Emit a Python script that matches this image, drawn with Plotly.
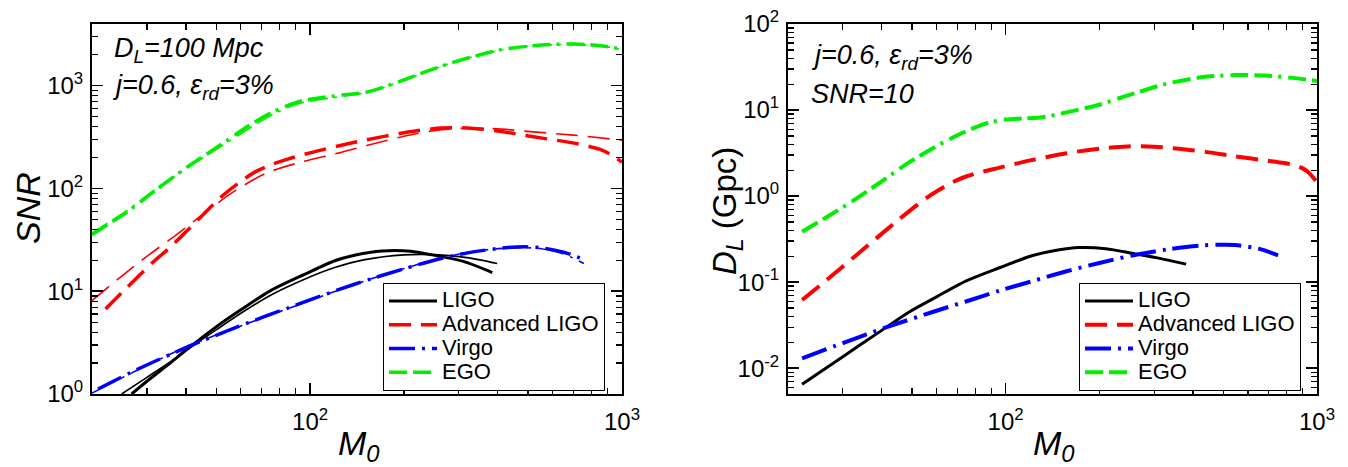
import numpy as np
import plotly.graph_objects as go

# ---------------- data: left panel (SNR at D_L = 100 Mpc) ----------------
ligo_thick_m = [26.8, 30, 35, 40.8, 50, 60, 75, 96, 120, 140, 170, 210, 257, 310, 384]
ligo_thick_snr = [1.0, 1.33, 1.92, 2.8, 4.5, 6.6, 10.2, 14.6, 19.8, 22.5, 24.6, 24.5, 22.0, 19.5, 15.2]
ligo_thin_m = [24.9, 30, 35, 40.8, 50, 60, 75, 96, 120, 150, 200, 250, 300, 350, 398]
ligo_thin_snr = [1.0, 1.45, 1.98, 2.75, 4.2, 6.1, 9.2, 13.1, 17.0, 20.3, 22.6, 22.7, 21.7, 20.2, 18.6]

virgo_thick_m = [20.9, 28.1, 40.8, 59, 85.3, 124, 157, 200, 257, 330, 430, 500, 545, 650, 750]
virgo_thick_snr = [1.12, 1.75, 2.9, 4.55, 6.9, 10.4, 13.2, 16.5, 20.5, 24.0, 26.6, 27.0, 26.6, 24.0, 20.5]
virgo_thin_m = [20, 28.1, 40.8, 59, 85.3, 124, 157, 200, 257, 330, 430, 500, 545, 650, 755]
virgo_thin_snr = [1.02, 1.72, 2.95, 4.5, 6.8, 10.3, 13.2, 16.6, 20.6, 24.2, 26.4, 26.5, 26.0, 23.0, 18.6]

adv_thick_m = [22.1, 26, 31.8, 35, 40.8, 52.2, 60, 66.7, 75, 85.3, 100, 124, 152, 200, 248, 318, 400, 520, 720, 850, 930, 1000]
adv_thick_snr = [6.7, 11.0, 19.9, 25.5, 40, 84, 117, 145, 170, 194, 222, 260, 298, 348, 382, 388, 362, 318, 272, 240, 210, 180]
adv_thin_m = [20, 24, 28.8, 31.8, 38, 45, 56, 72, 92, 124, 152, 200, 250, 318, 400, 520, 700, 1000]
adv_thin_snr = [8.1, 12.8, 19.9, 24.9, 37, 55, 90, 140, 178, 222, 262, 322, 365, 386, 380, 355, 330, 295]

ego_m = [20, 26.1, 31.8, 40, 52.2, 63, 75.6, 92, 124, 152, 194, 240, 281, 340, 407, 500, 589, 700, 777, 880, 1000]
ego_thick_snr = [35.5, 60, 95, 158, 272, 400, 550, 700, 806, 865, 1100, 1400, 1650, 1950, 2230, 2420, 2510, 2540, 2510, 2420, 2270]
ego_thin_snr = [37, 62, 97, 156, 260, 375, 520, 670, 780, 860, 1090, 1390, 1650, 1950, 2220, 2420, 2500, 2520, 2480, 2400, 2250]

# ---------------- data: right panel (D_L in Gpc at SNR = 10) ----------------
r_ligo_m = [22.2, 30, 40, 49, 60, 75, 96, 120, 140, 170, 210, 257, 310, 380]
r_ligo_d = [0.0065, 0.0136, 0.0275, 0.045, 0.0675, 0.104, 0.148, 0.2, 0.228, 0.252, 0.245, 0.215, 0.19, 0.162]

r_virgo_m = [22.2, 30, 41.5, 60, 75, 96, 120, 157, 200, 257, 330, 430, 500, 545, 650, 750]
r_virgo_d = [0.013, 0.0196, 0.030, 0.0465, 0.060, 0.080, 0.101, 0.134, 0.167, 0.205, 0.24, 0.268, 0.272, 0.27, 0.245, 0.205]

r_adv_m = [22.2, 26.8, 33, 38.3, 45, 55.6, 62, 67.6, 75, 85, 93.5, 120, 157, 200, 246, 300, 360, 450, 545, 680, 785, 850, 900, 940, 971, 1000]
r_adv_d = [0.062, 0.108, 0.203, 0.32, 0.52, 0.95, 1.22, 1.45, 1.7, 1.93, 2.1, 2.6, 3.15, 3.55, 3.78, 3.75, 3.55, 3.22, 2.9, 2.6, 2.42, 2.28, 2.1, 1.88, 1.65, 1.45]

r_ego_m = [22.2, 26.5, 32, 39.3, 48, 58.4, 70, 80, 89, 100, 115, 129, 145, 157, 201, 257, 330, 424, 545, 700, 850, 1000]
r_ego_d = [0.385, 0.565, 0.86, 1.42, 2.35, 3.6, 5.1, 6.3, 7.2, 7.75, 8.0, 8.2, 8.8, 9.4, 11.6, 15.5, 20.3, 24, 25.5, 25, 23.5, 21.8]

names = ["LIGO", "Advanced LIGO", "Virgo", "EGO"]
colors = ["#000000", "#ff0000", "#0000ff", "#00ee00"]
dashes = ["solid", "22px,10px", "26px,7px,3px,7px", "18px,6px,18px,6px,3px,7px"]

FONT = "Liberation Sans, Arial, sans-serif"
W, H = 1348, 467

fig = go.Figure()

def add(x, y, i, width, xa, ya, show, legend):
    fig.add_trace(go.Scatter(
        x=x, y=y, mode="lines",
        name="<span style='font-size:22px'>%s</span>" % names[i],
        line=dict(color=colors[i], width=width, dash=dashes[i], shape="spline", smoothing=0.8),
        xaxis=xa, yaxis=ya, showlegend=show, legend=legend, hoverinfo="skip"))

# left panel
add(ligo_thick_m, ligo_thick_snr, 0, 3, "x", "y", True, "legend")
add(ligo_thin_m, ligo_thin_snr, 0, 1.6, "x", "y", False, "legend")
add(adv_thick_m, adv_thick_snr, 1, 3.5, "x", "y", True, "legend")
add(adv_thin_m, adv_thin_snr, 1, 1.6, "x", "y", False, "legend")
add(virgo_thick_m, virgo_thick_snr, 2, 3.5, "x", "y", True, "legend")
add(virgo_thin_m, virgo_thin_snr, 2, 1.6, "x", "y", False, "legend")
add(ego_m, ego_thick_snr, 3, 3.5, "x", "y", True, "legend")
add(ego_m, ego_thin_snr, 3, 1.6, "x", "y", False, "legend")

# right panel
add(r_ligo_m, r_ligo_d, 0, 3, "x2", "y2", True, "legend2")
add(r_adv_m, r_adv_d, 1, 4, "x2", "y2", True, "legend2")
add(r_virgo_m, r_virgo_d, 2, 4, "x2", "y2", True, "legend2")
add(r_ego_m, r_ego_d, 3, 4, "x2", "y2", True, "legend2")

def sup(e):
    return "10<sup>%d</sup>" % e

def minor_vals(lo, hi):
    vals = []
    for d in range(lo, hi):
        for k in range(2, 10):
            vals.append(k * 10.0 ** d)
    return vals

x_tickvals = [100, 1000]
x_ticktext = [sup(2), sup(3)]
y1_tickvals = [1, 10, 100, 1000]
y1_ticktext = [sup(0), sup(1), sup(2), sup(3)]
y2_tickvals = [0.01, 0.1, 1, 10, 100]
y2_ticktext = [sup(-2), sup(-1), sup(0), sup(1), sup(2)]

def axis_common(tv, tt, minor, rng, domain, anchor, standoff):
    return dict(
        type="log", range=rng, domain=domain, anchor=anchor, automargin=False,
        showline=True, linecolor="black", linewidth=2, mirror="ticks",
        ticks="inside", ticklen=11, tickwidth=1.5, tickcolor="black",
        tickvals=tv, ticktext=tt, ticklabelstandoff=standoff,
        tickfont=dict(family=FONT, size=24, color="black"),
        showgrid=False, zeroline=False, fixedrange=True,
        minor=dict(ticks="inside", ticklen=6, tickwidth=1.2, tickcolor="black",
                   tickvals=minor, showgrid=False),
    )

ydom = [1 - 394 / H, 1 - 24 / H]
leg = dict(y=1 - 283 / H, xanchor="left", yanchor="top", itemwidth=48,
           bgcolor="white", bordercolor="black", borderwidth=1,
           font=dict(family=FONT, size=16, color="black"), tracegroupgap=0)
fig.update_layout(
    template="none",
    width=W, height=H,
    margin=dict(l=0, r=0, t=0, b=0),
    paper_bgcolor="white", plot_bgcolor="white",
    font=dict(family=FONT, color="black"),
    showlegend=True,
    xaxis=axis_common(x_tickvals, x_ticktext, minor_vals(1, 3),
                      [np.log10(20), 3], [92 / W, 622 / W], "y", 5),
    yaxis=axis_common(y1_tickvals, y1_ticktext, minor_vals(0, 4),
                      [0, 3.6], ydom, "x", 2),
    xaxis2=axis_common(x_tickvals, x_ticktext, minor_vals(1, 3),
                       [np.log10(20), 3], [788 / W, 1317 / W], "y2", 5),
    yaxis2=axis_common(y2_tickvals, y2_ticktext, minor_vals(-3, 2),
                       [-2.3, 2], ydom, "x2", 2),
    legend=dict(x=383 / W, **leg),
    legend2=dict(x=1079 / W, **leg),
)

def ann(text, x, y, size, xanchor="left", yanchor="middle", angle=0):
    fig.add_annotation(text=text, x=x / W, y=1 - y / H, xref="paper", yref="paper",
                       xanchor=xanchor, yanchor=yanchor, showarrow=False, textangle=angle,
                       font=dict(family=FONT, size=size, color="black"))

ann("<i>D<sub>L</sub>=100 Mpc</i>", 112, 50, 27)
ann("<i>j=0.6, ε<sub>rd</sub>=3%</i>", 110, 87, 27)
ann("<i>j=0.6, ε<sub>rd</sub>=3%</i>", 809, 57, 27)
ann("<i>SNR=10</i>", 809, 94, 27)

ann("<i>SNR</i>", 28, 208, 34, xanchor="center", angle=-90)
ann("<i>M<sub>0</sub></i>", 359, 445, 34, xanchor="center")
ann("<i>M<sub>0</sub></i>", 1054, 445, 34, xanchor="center")
ann("<i>D<sub>L</sub></i> (Gpc)", 727, 211, 33, xanchor="center", angle=-90)

fig.write_html("out.html",
               config={"displayModeBar": False, "staticPlot": True},
               post_script="document.body.style.margin='0px';"
                           "document.body.style.overflow='hidden';")
